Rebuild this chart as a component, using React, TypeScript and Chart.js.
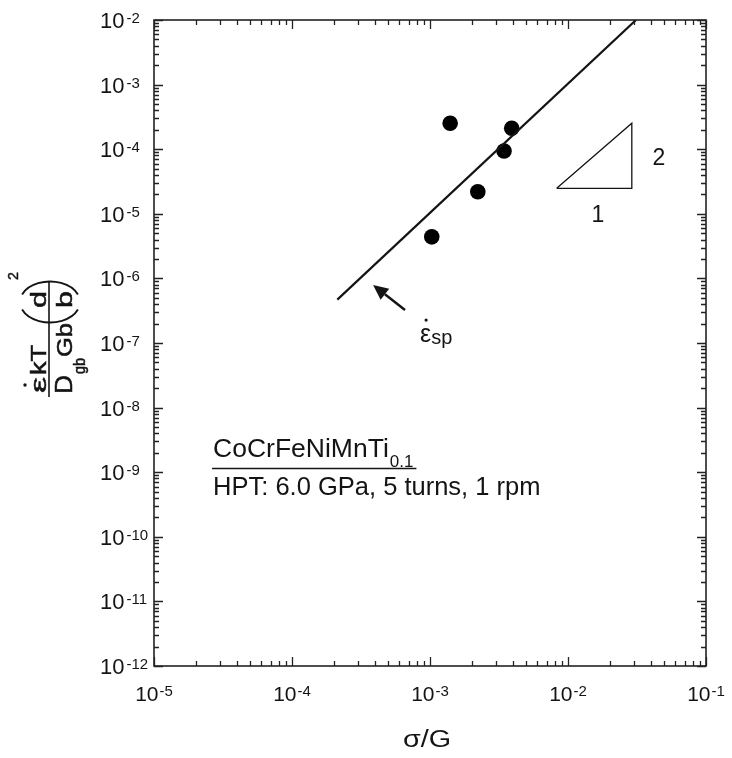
import React, { useEffect, useRef } from 'react';
import { Chart, registerables } from 'chart.js';

Chart.register(...registerables);

// ---- axis ranges / decades ----
const xRange = [1e-5, 1e-1];
const yRange = [1e-12, 1e-2];
const xDecades = [-5, -4, -3, -2, -1];
const yDecades = [-12, -11, -10, -9, -8, -7, -6, -5, -4, -3, -2];

// ---- data ----
const pointsX = [1.03e-3, 1.4e-3, 2.22e-3, 3.44e-3, 3.91e-3];
const pointsY = [4.4e-6, 2.52e-4, 2.2e-5, 9.4e-5, 2.11e-4];
const fitX = [2.13e-4, 3.11e-2];
const fitY = [4.69e-7, 1.0e-2];
const triX = [8.28e-3, 2.9e-2, 2.9e-2, 8.28e-3];
const triY = [2.48e-5, 2.48e-5, 2.52e-4, 2.48e-5];

// ---- annotation anchors (data coordinates) ----
const slopeLabels = [
  { text: '2', x: 0.0456, y: 7.05e-5 },
  { text: '1', x: 0.01648, y: 9.5e-6 },
];
const arrowTail = { x: 6.59e-4, y: 3.24e-7 };
const arrowHead = { x: 3.87e-4, y: 7.9e-7 };
const epsLabel = { x: 8.47e-4, y: 1.035e-7 };
const alloyLabel = { x: 2.68e-5, y: 1.72e-9 };
const alloyName = 'CoCrFeNiMnTi';
const alloySub = '0.1';
const processText = 'HPT: 6.0 GPa, 5 turns, 1 rpm';
const xTitle = 'σ/G';

const FONT = '"Liberation Sans", Arial, Helvetica, sans-serif';
const f = (px: number) => `${px}px ${FONT}`;
const INK = '#141414';

function drawYTitle(ctx: CanvasRenderingContext2D) {
  ctx.save();
  ctx.translate(49, 397);
  ctx.rotate(-Math.PI / 2);
  ctx.fillStyle = INK;
  ctx.strokeStyle = INK;
  ctx.textAlign = 'left';
  ctx.textBaseline = 'alphabetic';
  const piece = (t: string, u: number, v: number, w: number, size: number) => {
    ctx.save();
    ctx.font = f(size);
    const mw = ctx.measureText(t).width;
    ctx.translate(u, v);
    ctx.scale(w / mw, 1);
    ctx.fillText(t, 0, 0);
    ctx.lineWidth = 0.5;
    ctx.strokeText(t, 0, 0);
    ctx.restore();
  };
  piece('ε', 4, -3, 16, 22);
  ctx.beginPath();
  ctx.arc(12, -24, 1.7, 0, Math.PI * 2);
  ctx.fill();
  piece('kT', 22, -3, 30, 22);
  piece('D', 3, 23, 19, 24);
  piece('gb', 23, 36, 16, 16);
  piece('Gb', 40, 23, 34, 22);
  piece('d', 89, -3, 17, 22);
  piece('b', 89, 23, 17, 22);
  piece('2', 117, -31, 8, 15);
  ctx.lineWidth = 1.6;
  ctx.beginPath();
  ctx.moveTo(0, 0);
  ctx.lineTo(115, 0);
  ctx.stroke();
  ctx.lineWidth = 1.9;
  ctx.beginPath();
  ctx.ellipse(95, 1, 20.5, 30, 0, Math.PI * 0.62, Math.PI * 1.38);
  ctx.stroke();
  ctx.beginPath();
  ctx.ellipse(95, 1, 20.5, 30, 0, -Math.PI * 0.38, Math.PI * 0.38);
  ctx.stroke();
  ctx.restore();
}

const decoPlugin = {
  id: 'deco',
  afterDraw(chart: any) {
    const ctx: CanvasRenderingContext2D = chart.ctx;
    const { left, right, top, bottom } = chart.chartArea;
    const xs = chart.scales.x;
    const ys = chart.scales.y;
    ctx.save();
    // frame
    ctx.strokeStyle = '#222';
    ctx.lineWidth = 1.6;
    ctx.strokeRect(left, top, right - left, bottom - top);
    // ticks
    ctx.lineWidth = 1.3;
    ctx.beginPath();
    for (const k of xDecades) {
      for (let m = 1; m <= 9; m++) {
        const v = m * Math.pow(10, k);
        if (v > xRange[1] * 1.0001) break;
        const px = Math.round(xs.getPixelForValue(v)) + 0.5;
        const len = m === 1 ? 9 : 5;
        ctx.moveTo(px, bottom);
        ctx.lineTo(px, bottom - len);
        ctx.moveTo(px, top);
        ctx.lineTo(px, top + len);
      }
    }
    for (const k of yDecades) {
      for (let m = 1; m <= 9; m++) {
        const v = m * Math.pow(10, k);
        if (v > yRange[1] * 1.0001) break;
        const py = Math.round(ys.getPixelForValue(v)) + 0.5;
        const len = m === 1 ? 9 : 5;
        ctx.moveTo(left, py);
        ctx.lineTo(left + len, py);
        ctx.moveTo(right, py);
        ctx.lineTo(right - len, py);
      }
    }
    ctx.stroke();

    // tick labels
    ctx.fillStyle = INK;
    ctx.textBaseline = 'alphabetic';
    ctx.textAlign = 'left';
    for (const k of xDecades) {
      const px = xs.getPixelForValue(Math.pow(10, k));
      ctx.font = f(21);
      const w1 = ctx.measureText('10').width;
      ctx.font = f(15);
      const e = String(k);
      const w2 = ctx.measureText(e).width;
      const start = px - (w1 + w2 + 1) / 2;
      ctx.font = f(21);
      ctx.fillText('10', start, bottom + 35);
      ctx.font = f(15);
      ctx.fillText(e, start + w1 + 1, bottom + 30);
    }
    for (const k of yDecades) {
      const py = ys.getPixelForValue(Math.pow(10, k));
      ctx.font = f(22);
      const w1 = ctx.measureText('10').width;
      ctx.fillText('10', 100, py + 8);
      ctx.font = f(15);
      ctx.fillText(String(k), 100 + w1 + 2, py + 3);
    }

    // x title (slightly wide, as in the reference)
    ctx.save();
    ctx.font = f(23);
    ctx.textAlign = 'center';
    ctx.translate(427, bottom + 81);
    ctx.scale(1.25, 1);
    ctx.fillText(xTitle, 0, 0);
    ctx.restore();

    // y title
    drawYTitle(ctx);

    // slope labels
    ctx.font = f(23);
    ctx.textAlign = 'center';
    ctx.textBaseline = 'middle';
    for (const s of slopeLabels) {
      ctx.fillText(s.text, xs.getPixelForValue(s.x), ys.getPixelForValue(s.y));
    }

    // arrow
    const tx = xs.getPixelForValue(arrowTail.x);
    const ty = ys.getPixelForValue(arrowTail.y);
    const hx = xs.getPixelForValue(arrowHead.x);
    const hy = ys.getPixelForValue(arrowHead.y);
    const ang = Math.atan2(hy - ty, hx - tx);
    const hl = 15;
    const hw = 7;
    const bx = hx - hl * Math.cos(ang);
    const by = hy - hl * Math.sin(ang);
    ctx.strokeStyle = INK;
    ctx.lineWidth = 2.4;
    ctx.beginPath();
    ctx.moveTo(tx, ty);
    ctx.lineTo(bx, by);
    ctx.stroke();
    ctx.beginPath();
    ctx.moveTo(hx, hy);
    ctx.lineTo(bx + hw * Math.sin(ang), by - hw * Math.cos(ang));
    ctx.lineTo(bx - hw * Math.sin(ang), by + hw * Math.cos(ang));
    ctx.closePath();
    ctx.fill();

    // epsilon_sp label
    const ex = xs.getPixelForValue(epsLabel.x);
    const ey = ys.getPixelForValue(epsLabel.y);
    ctx.textAlign = 'left';
    ctx.textBaseline = 'alphabetic';
    ctx.font = f(25);
    ctx.fillText('ε', ex, ey);
    const we = ctx.measureText('ε').width;
    ctx.beginPath();
    ctx.arc(ex + we / 2 + 0.5, ey - 22, 1.6, 0, Math.PI * 2);
    ctx.fill();
    ctx.font = f(20);
    ctx.fillText('sp', ex + we, ey + 2);

    // alloy label
    const ax = xs.getPixelForValue(alloyLabel.x);
    const ay = ys.getPixelForValue(alloyLabel.y);
    ctx.font = f(26.5);
    ctx.fillText(alloyName, ax, ay);
    const wn = ctx.measureText(alloyName).width;
    ctx.font = f(17);
    ctx.fillText(alloySub, ax + wn + 1, ay + 10);
    const ws = ctx.measureText(alloySub).width;
    ctx.lineWidth = 1.5;
    ctx.beginPath();
    ctx.moveTo(ax - 1, ay + 11.5);
    ctx.lineTo(ax + wn + ws + 4, ay + 11.5);
    ctx.stroke();
    ctx.font = f(25.5);
    ctx.fillText(processText, ax, ay + 38);

    ctx.restore();
  },
};

export default function App() {
  const ref = useRef<HTMLCanvasElement>(null);
  useEffect(() => {
    document.body.style.margin = '0';
    const canvas = ref.current;
    if (!canvas) return;
    const toXY = (xa: number[], ya: number[]) => xa.map((x, i) => ({ x, y: ya[i] }));
    const chart = new Chart(canvas, {
      type: 'scatter',
      data: {
        datasets: [
          {
            data: toXY(fitX, fitY),
            showLine: true,
            borderColor: INK,
            borderWidth: 2.2,
            pointRadius: 0,
          },
          {
            data: toXY(triX, triY),
            showLine: true,
            borderColor: INK,
            borderWidth: 1.3,
            pointRadius: 0,
          },
          {
            data: toXY(pointsX, pointsY),
            showLine: false,
            pointRadius: 7.8,
            pointBackgroundColor: '#000',
            pointBorderColor: '#000',
            pointBorderWidth: 0,
          },
        ],
      },
      options: {
        responsive: false,
        animation: false,
        devicePixelRatio: 1,
        layout: { padding: { left: 0, right: 26, top: 20, bottom: 0 } },
        plugins: { legend: { display: false }, tooltip: { enabled: false } },
        scales: {
          x: {
            type: 'logarithmic',
            min: xRange[0],
            max: xRange[1],
            grid: { display: false },
            border: { display: false },
            ticks: { display: false },
            afterFit: (s: any) => {
              s.height = 92;
            },
          },
          y: {
            type: 'logarithmic',
            min: yRange[0],
            max: yRange[1],
            grid: { display: false },
            border: { display: false },
            ticks: { display: false },
            afterFit: (s: any) => {
              s.width = 154;
            },
          },
        },
      },
      plugins: [decoPlugin],
    });
    return () => chart.destroy();
  }, []);
  return (
    <div style={{ width: 732, height: 758, background: '#fff' }}>
      <canvas ref={ref} width={732} height={758} style={{ display: 'block' }} />
    </div>
  );
}
